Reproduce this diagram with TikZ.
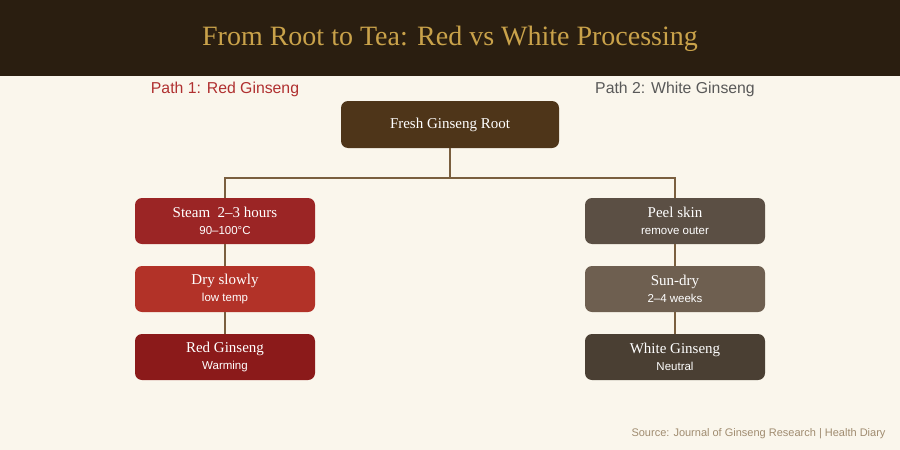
\documentclass[tikz,border=0pt]{standalone}
\usepackage{fontspec}
\setmainfont{Liberation Serif}
\setsansfont{Liberation Sans}
\definecolor{bg}{HTML}{FAF6EC}
\definecolor{hdr}{HTML}{2A1E10}
\definecolor{gold}{HTML}{C9A24A}
\definecolor{conn}{HTML}{7A5F3F}
\definecolor{rootc}{HTML}{4E3519}
\definecolor{ra}{HTML}{9B2525}
\definecolor{rb}{HTML}{B23228}
\definecolor{rc}{HTML}{8B1A1A}
\definecolor{wa}{HTML}{5B4F44}
\definecolor{wb}{HTML}{6E5F50}
\definecolor{wc}{HTML}{4A3F33}
\definecolor{pathred}{HTML}{B03030}
\definecolor{srcc}{HTML}{A08C70}
\begin{document}
\begin{tikzpicture}[x=1pt,y=-1pt,
  box/.style={rounded corners=7pt,minimum width=180pt,minimum height=46pt,inner sep=0pt,text=white,align=center,font=\fontsize{15}{16}\selectfont},
  ln/.style={conn,line width=2.5pt}]
\fill[bg] (0,0) rectangle (900,450);
\fill[hdr] (0,0) rectangle (900,76);
\node (title) at (450,39) {\fontsize{28}{30}\selectfont\color{gold}From Root to Tea: Red vs White Processing};
\node[text=pathred,font=\sffamily\fontsize{15.8}{17}\selectfont] (p1) at (225,89) {Path 1: Red Ginseng};
\node[text=black!65,font=\sffamily\fontsize{15.8}{17}\selectfont] (p2) at (675,89) {Path 2: White Ginseng};
\node[box,fill=rootc,minimum width=218pt,minimum height=47pt] (root) at (450,124.5) {Fresh Ginseng Root};
\newcommand{\sub}[1]{\\[1pt]{\sffamily\fontsize{11.5}{12}\selectfont #1}}
\node[box,fill=ra] (l1) at (225,221) {Steam\ \ 2–3 hours\sub{90–100°C}};
\node[box,fill=rb] (l2) at (225,289) {Dry slowly\sub{low temp}};
\node[box,fill=rc] (l3) at (225,357) {Red Ginseng\sub{Warming}};
\node[box,fill=wa] (r1) at (675,221) {Peel skin\sub{remove outer}};
\node[box,fill=wb] (r2) at (675,289) {Sun-dry\sub{2–4 weeks}};
\node[box,fill=wc] (r3) at (675,357) {White Ginseng\sub{Neutral}};
\coordinate (j) at (450,178);
\draw[ln] (root.south) -- (j);
\draw[ln] (l1.north) |- (j) -| (r1.north);
\draw[conn,line width=1.5pt] (l1) -- (l2) (l2) -- (l3) (r1) -- (r2) (r2) -- (r3);
\node[anchor=east,text=srcc,font=\sffamily\fontsize{11}{12}\selectfont] (src) at (889,434) {Source: Journal of Ginseng Research | Health Diary};
\end{tikzpicture}
\end{document}
